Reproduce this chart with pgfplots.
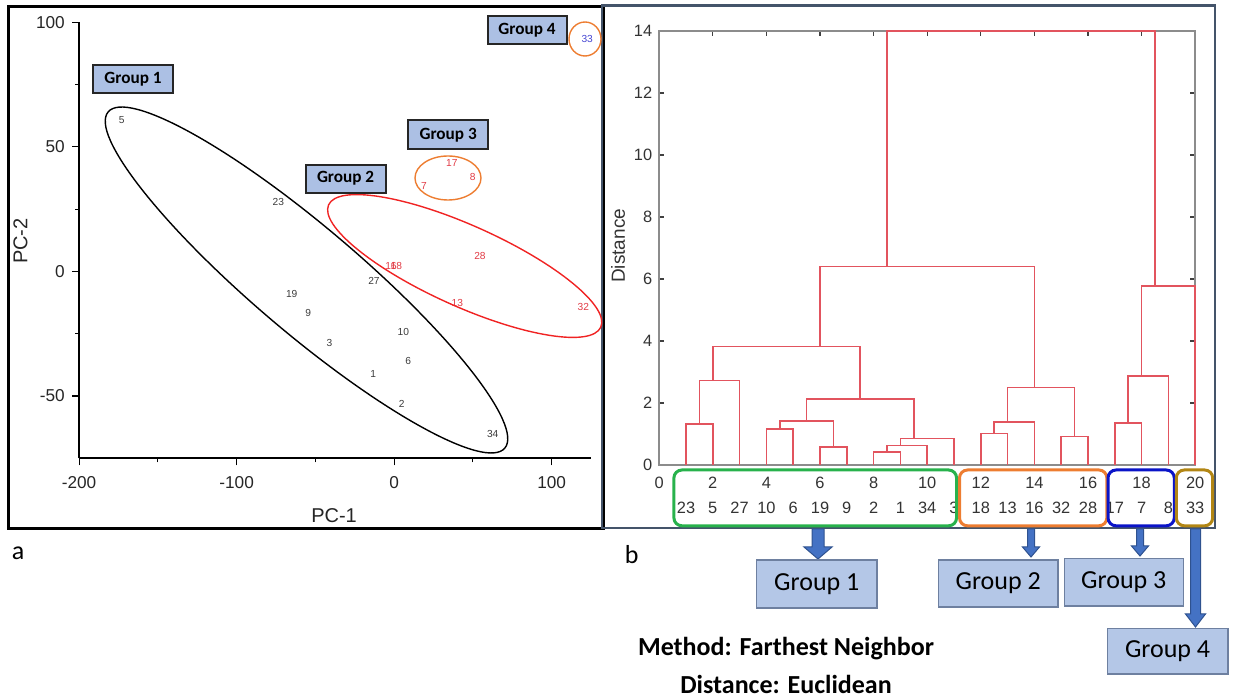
\documentclass[border=0pt]{standalone}
\usepackage{pgfplots}
\usepackage{pgfplotstable}
\pgfplotsset{compat=1.18}
\usepackage{fontspec}
\setmainfont{Liberation Sans}
\newfontfamily\calfont{Carlito}
\definecolor{dred}{RGB}{226,84,94}
\definecolor{ptred}{RGB}{225,60,70}
\definecolor{ptgray}{RGB}{60,60,60}
\definecolor{ptblue}{RGB}{70,70,210}
\definecolor{ellred}{RGB}{240,35,35}
\definecolor{ellorange}{RGB}{237,125,49}
\definecolor{gbox}{RGB}{180,199,231}
\definecolor{gboxl}{RGB}{172,192,228}
\definecolor{gboxedge}{RGB}{110,128,160}
\definecolor{arrowfill}{RGB}{68,114,196}
\definecolor{arrowedge}{RGB}{47,82,143}
\definecolor{cgreen}{RGB}{40,178,76}
\definecolor{corange}{RGB}{237,125,49}
\definecolor{cblue}{RGB}{10,20,200}
\definecolor{cgold}{RGB}{178,134,20}
\definecolor{frameb}{RGB}{68,84,106}

\pgfplotstableread{
x y label
-172.9 60.8 5
-73.5 27.8 23
-65.0 -8.9 19
-54.5 -16.7 9
-41.1 -28.6 3
-12.8 -3.9 27
5.8 -24.5 10
9.0 -36.0 6
-13.2 -41.2 1
4.8 -53.0 2
62.6 -65.4 34
}\groupone
\pgfplotstableread{
x y label
-2.0 2.1 16
1.4 2.1 18
54.5 6.1 28
40.1 -12.5 13
120.1 -14.3 32
}\grouptwo
\pgfplotstableread{
x y label
36.6 43.4 17
49.9 37.8 8
19.0 34.4 7
}\groupthree
\pgfplotstableread{
x y label
122.6 93.4 33
}\groupfour

\begin{document}
\begin{tikzpicture}
\begin{scope}[x=0.5pt,y=-0.5pt]
\path[use as bounding box] (0,0) rectangle (1233,698);
\end{scope}

% ---------- scatter (a) ----------
\begin{axis}[
  at={(39.55pt,-229.15pt)}, anchor=south west,
  scale only axis, width=255.95pt, height=218pt,
  xmin=-200, xmax=125, ymin=-75, ymax=100,
  clip=false,
  axis x line*=bottom, axis y line*=left,
  axis line style={line width=0.8pt, black, -},
  tick align=outside,
  xtick={-200,-100,0,100}, xticklabels={-200,-100,0,100},
  ytick={-50,0,50,100}, yticklabels={-50,0,50,100},
  minor xtick={-150,-50,50}, minor ytick={-25,25,75},
  major tick length=3.5pt, minor tick length=2pt,
  tick style={line width=0.6pt, black},
  tick label style={font=\fontsize{8.6}{10}\selectfont, text=black!85},
  xticklabel style={inner sep=0pt, yshift=-5.5pt},
  yticklabel style={inner sep=0pt, xshift=-3.5pt},
  xlabel={PC-1}, ylabel={PC-2},
  label style={font=\fontsize{10}{12}\selectfont, text=black!85},
  xlabel style={at={(axis description cs:0.498,-0.131)}, anchor=center},
  ylabel style={at={(axis description cs:-0.1143,0.498)}, anchor=center},
  nodes near coords, point meta=explicit symbolic,
]
\addplot[only marks, mark=none, nodes near coords style={anchor=center, inner sep=0pt, font=\fontsize{5.1}{6}\selectfont, text=ptgray}]
  table[x=x, y=y, meta=label] {\groupone};
\addplot[only marks, mark=none, nodes near coords style={anchor=center, inner sep=0pt, font=\fontsize{5.1}{6}\selectfont, text=ptred}]
  table[x=x, y=y, meta=label] {\grouptwo};
\addplot[only marks, mark=none, nodes near coords style={anchor=center, inner sep=0pt, font=\fontsize{5.1}{6}\selectfont, text=ptred}]
  table[x=x, y=y, meta=label] {\groupthree};
\addplot[only marks, mark=none, nodes near coords style={anchor=center, inner sep=0pt, font=\fontsize{5.1}{6}\selectfont, text=ptblue}]
  table[x=x, y=y, meta=label] {\groupfour};
\end{axis}

% ---------- dendrogram (b) ----------
\begin{axis}[
  at={(329.6pt,-232.5pt)}, anchor=south west,
  scale only axis, width=268pt, height=217pt,
  xmin=0, xmax=20, ymin=0, ymax=14,
  clip=false,
  xtick={0,2,...,20}, ytick={0,2,...,14},
  /pgf/number format/assume math mode=true,
  tick align=inside,
  axis line style={draw=black!45, line width=0.9pt},
  major tick style={draw=black!75, line width=0.6pt}, major tick length=2.5pt,
  tick label style={font=\fontsize{8.2}{9.8}\selectfont, text=black!80},
  xticklabel style={anchor=center, inner sep=0pt, yshift=-8.9pt},
  yticklabel style={anchor=east, inner sep=0pt, xshift=-3.3pt},
  extra x ticks={1,2,...,20},
  extra x tick labels={23,5,27,10,6,19,9,2,1,34,3,18,13,16,32,28,17,7,8,33},
  extra x tick style={major tick length=0pt, xticklabel style={yshift=-12.6pt}},
  ylabel={Distance},
  ylabel style={at={(axis description cs:-0.0765,0.505)}, anchor=center, font=\fontsize{9.5}{11}\selectfont, text=black!80},
  dl/.style={dred, line width=0.8pt, mark=none, solid},
]
\addplot[dl] coordinates {(1,0) (1,1.32) (2,1.32) (2,0)};
\addplot[dl] coordinates {(1.5,1.32) (1.5,2.72) (3,2.72) (3,0)};
\addplot[dl] coordinates {(4,0) (4,1.17) (5,1.17) (5,0)};
\addplot[dl] coordinates {(6,0) (6,0.58) (7,0.58) (7,0)};
\addplot[dl] coordinates {(4.5,1.17) (4.5,1.41) (6.5,1.41) (6.5,0.58)};
\addplot[dl] coordinates {(8,0) (8,0.42) (9,0.42) (9,0)};
\addplot[dl] coordinates {(8.5,0.42) (8.5,0.63) (10,0.63) (10,0)};
\addplot[dl] coordinates {(9,0.63) (9,0.85) (11,0.85) (11,0)};
\addplot[dl] coordinates {(5.5,1.41) (5.5,2.13) (9.5,2.13) (9.5,0.85)};
\addplot[dl] coordinates {(2,2.72) (2,3.82) (7.5,3.82) (7.5,2.13)};
\addplot[dl] coordinates {(12,0) (12,1.01) (13,1.01) (13,0)};
\addplot[dl] coordinates {(12.5,1.01) (12.5,1.38) (14,1.38) (14,0)};
\addplot[dl] coordinates {(15,0) (15,0.92) (16,0.92) (16,0)};
\addplot[dl] coordinates {(13,1.38) (13,2.5) (15.5,2.5) (15.5,0.92)};
\addplot[dl] coordinates {(6,3.82) (6,6.4) (14,6.4) (14,2.5)};
\addplot[dl] coordinates {(17,0) (17,1.35) (18,1.35) (18,0)};
\addplot[dl] coordinates {(17.5,1.35) (17.5,2.87) (19,2.87) (19,0)};
\addplot[dl] coordinates {(18,2.87) (18,5.77) (20,5.77) (20,0)};
\addplot[dl] coordinates {(8.5,6.4) (8.5,14) (18.5,14) (18.5,5.77)};
\end{axis}

% ---------- annotations (pixel coordinates) ----------
\begin{scope}[x=0.5pt,y=-0.5pt]
% panel frames
\draw[black, line width=1.5pt] (8,6.2) rectangle (603,528.6);
\draw[frameb, line width=1.25pt] (602,5.5) rectangle (1215,528);
% ellipses
\draw[black, line width=0.7pt, rotate around={-40.3:(306.5,280)}] (306.5,280) ellipse [x radius=130pt, y radius=26.5pt];
\draw[ellred, line width=0.7pt, rotate around={-24.2:(464.7,266)}] (464.7,266) ellipse [x radius=74.6pt, y radius=20.2pt];
\draw[ellorange, line width=0.7pt] (448,178) ellipse [x radius=16.5pt, y radius=11pt];
\draw[ellorange, line width=0.7pt] (585,39) ellipse [x radius=8pt, y radius=8.5pt];
% group boxes in panel a
\tikzset{gl/.style={fill=gboxl, draw=black!85, line width=1pt}}
\draw[gl] (93,65.5) rectangle (173,93);
\node[font=\calfont\bfseries\fontsize{8.6}{10}\selectfont] at (133,79.5) {Group 1};
\draw[gl] (305.7,164.6) rectangle (385.5,192.8);
\node[font=\calfont\bfseries\fontsize{8.6}{10}\selectfont] at (345.6,178.7) {Group 2};
\draw[gl] (408,120.5) rectangle (488.3,149.1);
\node[font=\calfont\bfseries\fontsize{8.6}{10}\selectfont] at (448.2,134.8) {Group 3};
\draw[gl] (487.5,16.2) rectangle (566.6,44.1);
\node[font=\calfont\bfseries\fontsize{8.6}{10}\selectfont] at (527,30.2) {Group 4};
% coloured rounded boxes around leaf labels
\draw[cgreen, line width=1.5pt, rounded corners=4pt] (673.9,470) rectangle (956.6,525.8);
\draw[corange, line width=1.5pt, rounded corners=4pt] (959.5,470) rectangle (1106.9,525.8);
\draw[cblue, line width=1.5pt, rounded corners=4pt] (1108,470) rectangle (1174.3,525.8);
\draw[cgold, line width=1.5pt, rounded corners=4pt] (1176.3,470) rectangle (1212.7,525.8);
% arrows
\tikzset{ba/.style={fill=arrowfill, draw=arrowedge, line width=0.5pt}}
\path[ba] (812,529) -- (812,547) -- (804,547) -- (818,559) -- (832,547) -- (824,547) -- (824,529) -- cycle;
\path[ba] (1027.5,529) -- (1027.5,547) -- (1022.5,547) -- (1031,557) -- (1039.5,547) -- (1034.5,547) -- (1034.5,529) -- cycle;
\path[ba] (1136.5,529) -- (1136.5,546) -- (1131.5,546) -- (1140,556) -- (1148.5,546) -- (1143.5,546) -- (1143.5,529) -- cycle;
\path[ba] (1190.5,529) -- (1190.5,614) -- (1185.5,614) -- (1195.5,627) -- (1205.5,614) -- (1200.5,614) -- (1200.5,529) -- cycle;
% group boxes under dendrogram
\tikzset{gb/.style={fill=gbox, draw=gboxedge, line width=0.75pt}}
\draw[gb] (756.6,560) rectangle (877,608);
\node[font=\calfont\fontsize{13}{15}\selectfont] at (816.8,584) {Group 1};
\draw[gb] (938.3,560) rectangle (1058.2,607);
\node[font=\calfont\fontsize{13}{15}\selectfont] at (998.2,583.5) {Group 2};
\draw[gb] (1064.3,558.3) rectangle (1183.4,606);
\node[font=\calfont\fontsize{13}{15}\selectfont] at (1123.8,582) {Group 3};
\draw[gb] (1107.5,628.3) rectangle (1227.8,674);
\node[font=\calfont\fontsize{13}{15}\selectfont] at (1167.6,651) {Group 4};
% method text
\node[font=\calfont\bfseries\fontsize{13}{15}\selectfont] at (786,649) {Method: Farthest Neighbor};
\node[font=\calfont\bfseries\fontsize{13}{15}\selectfont] at (786,684) {Distance: Euclidean};
% panel letters
\node[font=\calfont\fontsize{13}{15}\selectfont] at (18,553) {a};
\node[font=\calfont\fontsize{13}{15}\selectfont] at (631.7,555) {b};
\end{scope}
\end{tikzpicture}
\end{document}
